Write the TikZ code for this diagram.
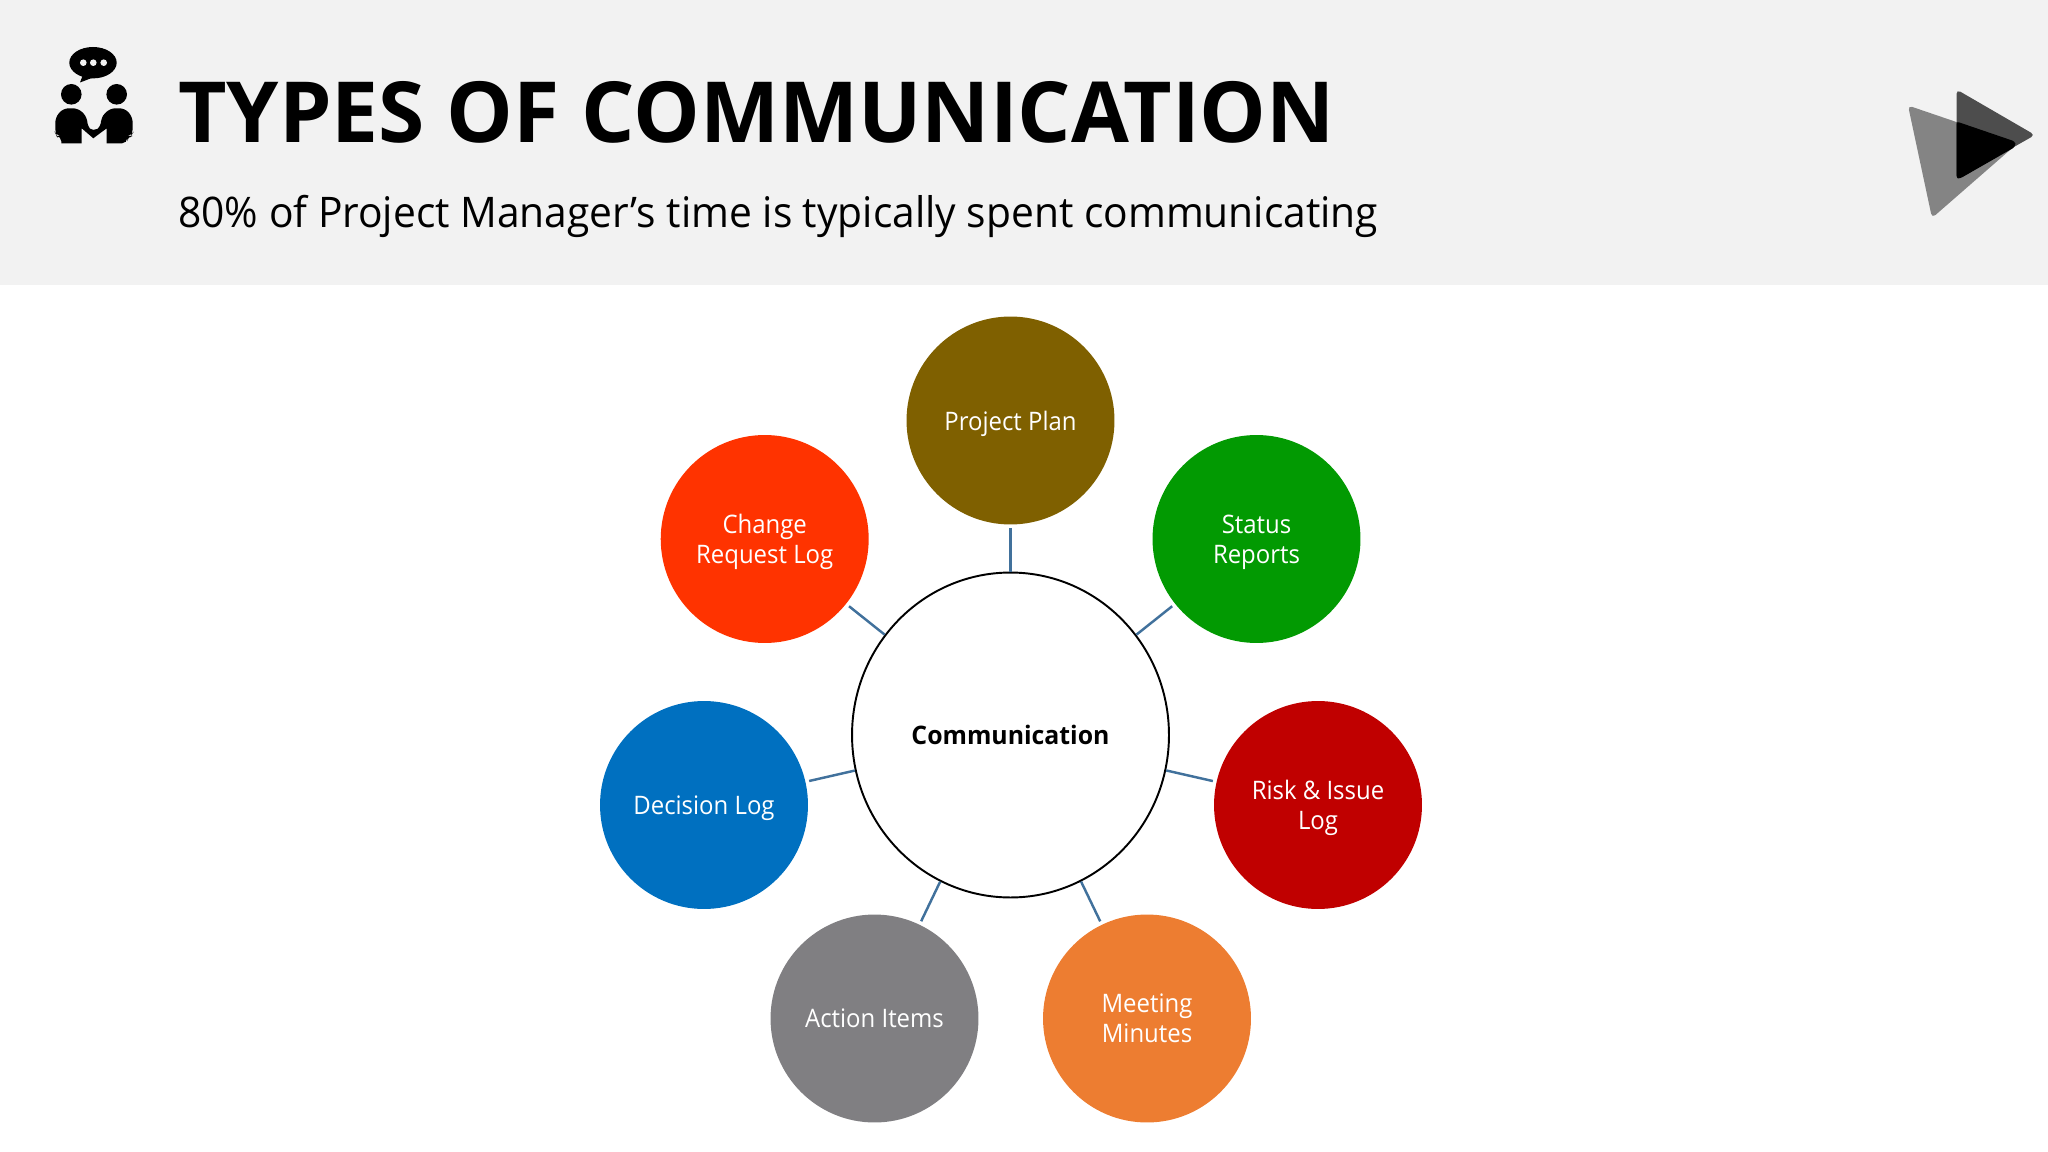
\documentclass[tikz,border=0pt]{standalone}
\usepackage{fontspec}
\usepackage{xcolor}
\setmainfont{Open Sans}
\newfontfamily\titlefont[FakeStretch=0.995]{Open Sans}
\newfontfamily\subtitlefont[FakeStretch=0.966]{Open Sans}
\newfontfamily\bodyfont[FakeStretch=0.94]{Open Sans}
\newfontfamily\hubfont[FakeStretch=0.975]{Open Sans}
\definecolor{bandgray}{HTML}{F2F2F2}
\definecolor{planbrown}{HTML}{7F6000}
\definecolor{statusgreen}{HTML}{029A02}
\definecolor{riskred}{HTML}{C00000}
\definecolor{minutesorange}{HTML}{ED7D31}
\definecolor{itemsgray}{HTML}{807F82}
\definecolor{decisionblue}{HTML}{0070C0}
\definecolor{changered}{HTML}{FF3300}
\definecolor{spokeblue}{HTML}{41719C}
\usetikzlibrary{shapes.geometric}
\tikzset{
	doc/.style={circle, minimum size=4.16cm, inner sep=0pt, align=center, text depth=0pt, text=white, font=\bodyfont\fontsize{14.5}{17.2}\selectfont},
	hub/.style={ellipse, draw=black, line width=1.1pt, fill=white, minimum width=6.34cm, minimum height=6.5cm, inner sep=0pt, font=\hubfont\bfseries\fontsize{14.5}{17.2}\selectfont},
	spoke/.style={draw=spokeblue, line width=1.4pt, shorten >=2pt}
}
\begin{document}
\begin{tikzpicture}[x=0.02cm, y=-0.02cm]
		\useasboundingbox (0,0) rectangle (2048,1152);
		\fill[bandgray] (0,0) rectangle (2048,284.5);
		
		\node[anchor=west, inner sep=0pt] (title) at (178,112) {\titlefont\bfseries\fontsize{48}{54}\selectfont TYPES OF COMMUNICATION};
		\node[anchor=west, inner sep=0pt] (subtitle) at (178,216) {\subtitlefont\fontsize{24}{28}\selectfont 80\% of Project Manager’s time is typically spent communicating};
		
		\fill (93,62.7) ellipse [x radius=23.7, y radius=15.7];
		\fill (84,72) -- (80,82.5) -- (97,76) -- cycle;
		\fill[bandgray] (83.3,62.7) circle [radius=3.3];
		\fill[bandgray] (93.3,62.7) circle [radius=3.3];
		\fill[bandgray] (103.7,62.7) circle [radius=3.3];
		\fill (71.3,94.3) circle [radius=10.3];
		\fill (116.7,94.3) circle [radius=10.3];
		\fill[rounded corners=3] (61.3,143.3) -- (61.3,136) -- (56.7,136) -- (55.3,133.3) -- (55.3,117.3) -- (63.3,108.3) -- (78.3,108.3) -- (87.3,117.3) -- (87.3,126.7) -- (93.3,131.7) -- (101,126.7) -- (101,117.3) -- (110,108.3) -- (125,108.3) -- (132.7,117.3) -- (132.7,133.3) -- (131,136) -- (127.3,136) -- (127.3,143.3) [sharp corners] -- (106.7,143.3) -- (106.7,128.3) -- (93.3,138.3) -- (81.7,128.3) -- (81.7,143.3) -- cycle;
		
		\fill[black, opacity=0.45, rounded corners=2.5] (1908,105.5) -- (1932,218) -- (2018,143) -- cycle;
		\fill[black, opacity=0.68, rounded corners=2.5] (1956.5,89.5) -- (2035,135) -- (1956.5,179.5) -- cycle;
		\fill[black, rounded corners=1.5] (1956.5,121.5) -- (2015,141.5) -- (2015,147) -- (1960,178.5) -- (1956.5,178.5) -- cycle;
		
		\node[hub] (center) at (1010.5,735) {Communication};
		\node[doc, fill=planbrown] (plan) at (1010.5,420.5) {Project Plan};
		\node[doc, fill=statusgreen] (status) at (1256.5,539) {Status\\Reports};
		\node[doc, fill=riskred] (risk) at (1318,805) {Risk \& Issue\\Log};
		\node[doc, fill=minutesorange] (minutes) at (1147,1018.5) {Meeting\\Minutes};
		\node[doc, fill=itemsgray] (items) at (874.5,1018.5) {Action Items};
		\node[doc, fill=decisionblue] (decision) at (704,805) {Decision Log};
		\node[doc, fill=changered] (change) at (764.7,539) {Change\\Request Log};
		
		\draw[spoke] (center) -- (plan);
		\draw[spoke] (center) -- (status);
		\draw[spoke] (center) -- (risk);
		\draw[spoke] (center) -- (minutes);
		\draw[spoke] (center) -- (items);
		\draw[spoke] (center) -- (decision);
		\draw[spoke] (center) -- (change);
		\end{tikzpicture}
\end{document}
